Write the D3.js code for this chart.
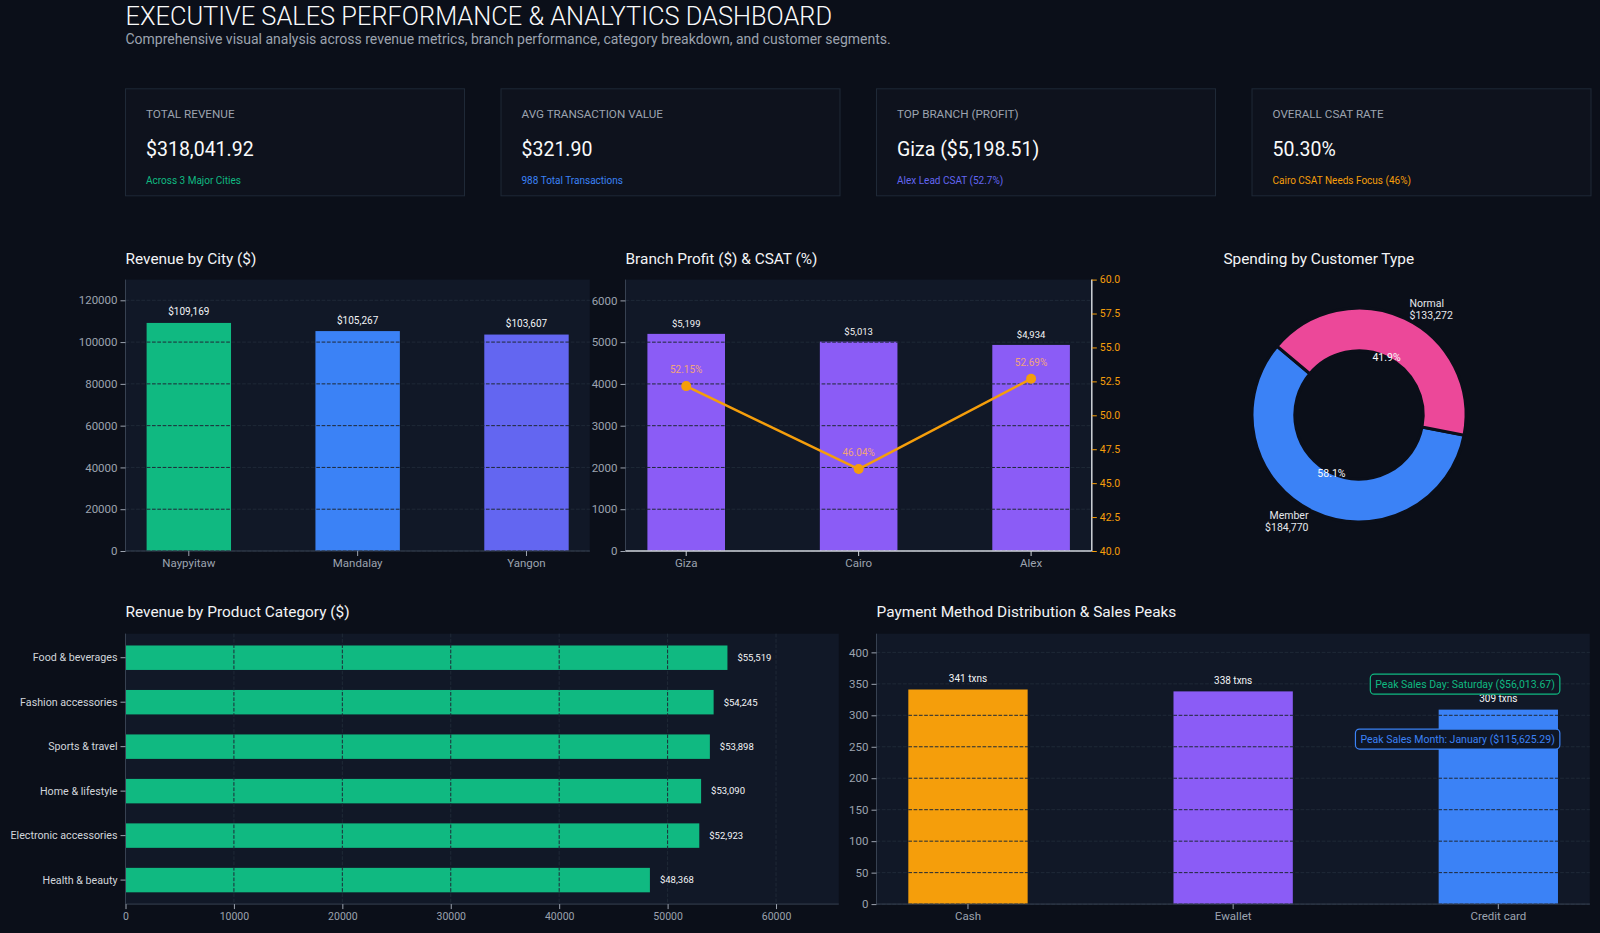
<!DOCTYPE html>
<html>
<head>
<meta charset="utf-8">
<script src="https://cdn.jsdelivr.net/npm/d3@7"></script>
<style>
  html, body { margin: 0; padding: 0; background: #0b0f19; }
  svg { display: block; }
</style>
</head>
<body>
<svg id="dash" width="1600" height="933"></svg>
<script>
// ---- data ----
const titleText = "EXECUTIVE SALES PERFORMANCE & ANALYTICS DASHBOARD";
const subtitleText = "Comprehensive visual analysis across revenue metrics, branch performance, category breakdown, and customer segments.";

const kpiLabels = ["TOTAL REVENUE", "AVG TRANSACTION VALUE", "TOP BRANCH (PROFIT)", "OVERALL CSAT RATE"];
const kpiValues = ["$318,041.92", "$321.90", "Giza ($5,198.51)", "50.30%"];
const kpiNotes = ["Across 3 Major Cities", "988 Total Transactions", "Alex Lead CSAT (52.7%)", "Cairo CSAT Needs Focus (46%)"];

const cities = ["Naypyitaw", "Mandalay", "Yangon"];
const cityRevenue = [109169, 105267, 103607];
const cityTicks = [0, 20000, 40000, 60000, 80000, 100000, 120000];

const branches = ["Giza", "Cairo", "Alex"];
const branchProfit = [5198.51, 5013, 4934];
const branchCsat = [52.15, 46.04, 52.69];
const profitTicks = [0, 1000, 2000, 3000, 4000, 5000, 6000];
const csatTicks = [40, 42.5, 45, 47.5, 50, 52.5, 55, 57.5, 60];

const customerTypes = ["Member", "Normal"];
const customerSpend = [184770, 133272];

const categories = ["Food & beverages", "Fashion accessories", "Sports & travel", "Home & lifestyle", "Electronic accessories", "Health & beauty"];
const categoryRevenue = [55519, 54245, 53898, 53090, 52923, 48368];
const categoryTicks = [0, 10000, 20000, 30000, 40000, 50000, 60000];

const payments = ["Cash", "Ewallet", "Credit card"];
const paymentTxns = [341, 338, 309];
const paymentTicks = [0, 50, 100, 150, 200, 250, 300, 350, 400];

const peakNotes = ["Peak Sales Day: Saturday ($56,013.67)", "Peak Sales Month: January ($115,625.29)"];

// ---- look ----
const FONT = "Roboto, 'Open Sans', sans-serif";
const BG = "#0b0f19", PANEL = "#111827", GRID = "#1f2937", SPINE = "#374151", MUTED = "#9ca3af", WHITE = "#f3f4f6";
const kpiColors = ["#10b981", "#3b82f6", "#6366f1", "#f59e0b"];
const cityColors = ["#10b981", "#3b82f6", "#6366f1"];
const payColors = ["#f59e0b", "#8b5cf6", "#3b82f6"];
const noteColors = ["#10b981", "#3b82f6"];
const TITLE_SIZE = 15.4;

const svg = d3.select("#dash").attr("font-family", FONT);
svg.append("rect").attr("width", 1600).attr("height", 933).attr("fill", BG);

// header
svg.append("text").attr("x", 125.5).attr("y", 25)
  .attr("font-size", 25.4).attr("font-weight", 300).attr("fill", "#f9fafb").text(titleText);
svg.append("text").attr("x", 125.5).attr("y", 43.5)
  .attr("font-size", 14).attr("fill", MUTED).text(subtitleText);

// KPI cards
kpiLabels.forEach((lab, i) => {
  const card = svg.append("g").attr("transform", `translate(${125.5 + i * 375.5}, 88.8)`);
  card.append("rect").attr("width", 339).attr("height", 107)
    .attr("fill", "#0e121d").attr("stroke", GRID).attr("stroke-width", 1);
  card.append("text").attr("x", 20.5).attr("y", 29.6).attr("font-size", 11.7).attr("fill", MUTED).text(lab);
  card.append("text").attr("x", 20.5).attr("y", 67).attr("font-size", 19.5).attr("fill", "#f9fafb").text(kpiValues[i]);
  card.append("text").attr("x", 20.5).attr("y", 95).attr("font-size", 10).attr("fill", kpiColors[i]).text(kpiNotes[i]);
});

function chartTitle(x, y, t) {
  svg.append("text").attr("x", x).attr("y", y).attr("font-size", TITLE_SIZE).attr("fill", WHITE).text(t);
}

function styleAxis(g, tickColor, textColor) {
  g.attr("font-family", FONT).attr("font-size", 11.5);
  g.select(".domain").remove();
  g.selectAll(".tick line").attr("stroke", tickColor);
  g.selectAll(".tick text").attr("fill", textColor);
}

// dashed grid, drawn on top of the bars like the reference
function hGrid(ticks, y, x0, x1) {
  svg.append("g").selectAll("line").data(ticks).join("line")
    .attr("x1", x0).attr("x2", x1)
    .attr("y1", d => y(d)).attr("y2", d => y(d))
    .attr("stroke", GRID).attr("stroke-width", 1).attr("stroke-dasharray", "3.7,1.6");
}

// ---- Revenue by City ----
const r1 = { top: 279.6, bottom: 551 };
chartTitle(125.5, 264, "Revenue by City ($)");
{
  const x0 = 125.5, x1 = 589.8;
  svg.append("rect").attr("x", x0).attr("y", r1.top).attr("width", x1 - x0).attr("height", r1.bottom - r1.top).attr("fill", PANEL);
  const x = d3.scaleBand().domain(cities).range([x0, x1]).paddingInner(0.5).paddingOuter(0.125);
  const y = d3.scaleLinear().domain([0, d3.max(cityRevenue) * 1.19]).range([r1.bottom, r1.top]);

  svg.append("g").selectAll("rect").data(cities).join("rect")
    .attr("x", d => x(d)).attr("width", x.bandwidth())
    .attr("y", (d, i) => y(cityRevenue[i])).attr("height", (d, i) => r1.bottom - y(cityRevenue[i]))
    .attr("fill", (d, i) => cityColors[i]);
  hGrid(cityTicks, y, x0, x1);

  svg.append("line").attr("x1", x0).attr("x2", x1).attr("y1", r1.bottom).attr("y2", r1.bottom).attr("stroke", SPINE);
  svg.append("line").attr("x1", x0).attr("x2", x0).attr("y1", r1.top).attr("y2", r1.bottom).attr("stroke", SPINE);

  svg.append("g").attr("transform", `translate(${x0},0)`)
    .call(d3.axisLeft(y).tickValues(cityTicks).tickSize(5).tickPadding(3).tickFormat(d3.format("d")))
    .call(g => styleAxis(g, MUTED, MUTED));
  svg.append("g").attr("transform", `translate(0,${r1.bottom})`)
    .call(d3.axisBottom(x).tickSize(5).tickPadding(3))
    .call(g => styleAxis(g, MUTED, MUTED));

  svg.append("g").selectAll("text").data(cities).join("text")
    .attr("x", d => x(d) + x.bandwidth() / 2)
    .attr("y", (d, i) => y(cityRevenue[i]) - 7.5)
    .attr("text-anchor", "middle").attr("font-size", 10).attr("fill", WHITE)
    .text((d, i) => "$" + d3.format(",")(cityRevenue[i]));
}

// ---- Branch Profit & CSAT ----
chartTitle(625.5, 264, "Branch Profit ($) & CSAT (%)");
{
  const x0 = 625.5, x1 = 1091.8;
  svg.append("rect").attr("x", x0).attr("y", r1.top).attr("width", x1 - x0).attr("height", r1.bottom - r1.top).attr("fill", PANEL);
  const x = d3.scaleBand().domain(branches).range([x0, x1]).paddingInner(0.55).paddingOuter(0.127);
  const y = d3.scaleLinear().domain([0, d3.max(branchProfit) * 1.25]).range([r1.bottom, r1.top]);
  const y2 = d3.scaleLinear().domain([40, 60]).range([r1.bottom, r1.top]);

  svg.append("g").selectAll("rect").data(branches).join("rect")
    .attr("x", d => x(d)).attr("width", x.bandwidth())
    .attr("y", (d, i) => y(branchProfit[i])).attr("height", (d, i) => r1.bottom - y(branchProfit[i]))
    .attr("fill", "#8b5cf6");
  hGrid(profitTicks, y, x0, x1);

  svg.append("line").attr("x1", x0).attr("x2", x0).attr("y1", r1.top).attr("y2", r1.bottom).attr("stroke", SPINE);
  svg.append("line").attr("x1", x0).attr("x2", x1).attr("y1", r1.bottom).attr("y2", r1.bottom).attr("stroke", "#d1d5db").attr("stroke-width", 1.5);
  svg.append("line").attr("x1", x1).attr("x2", x1).attr("y1", r1.top).attr("y2", r1.bottom).attr("stroke", "#d1d5db").attr("stroke-width", 1.5);

  svg.append("g").attr("transform", `translate(${x0},0)`)
    .call(d3.axisLeft(y).tickValues(profitTicks).tickSize(5).tickPadding(3).tickFormat(d3.format("d")))
    .call(g => styleAxis(g, MUTED, MUTED));
  svg.append("g").attr("transform", `translate(${x1},0)`)
    .call(d3.axisRight(y2).tickValues(csatTicks).tickSize(5).tickPadding(3).tickFormat(d3.format(".1f")))
    .call(g => styleAxis(g, "#f59e0b", "#f59e0b"))
    .call(g => g.attr("font-size", 10.5));
  svg.append("g").attr("transform", `translate(0,${r1.bottom})`)
    .call(d3.axisBottom(x).tickSize(5).tickPadding(3))
    .call(g => styleAxis(g, "#d1d5db", MUTED));

  svg.append("g").selectAll("text").data(branches).join("text")
    .attr("x", d => x(d) + x.bandwidth() / 2)
    .attr("y", (d, i) => y(branchProfit[i]) - 7)
    .attr("text-anchor", "middle").attr("font-size", 9.5).attr("fill", WHITE)
    .text((d, i) => "$" + d3.format(",.0f")(branchProfit[i]));

  const cx = d => x(d) + x.bandwidth() / 2;
  const line = d3.line().x(d => cx(d)).y((d, i) => y2(branchCsat[i]));
  svg.append("path").datum(branches).attr("d", line)
    .attr("fill", "none").attr("stroke", "#f59e0b").attr("stroke-width", 2.5);
  svg.append("g").selectAll("circle").data(branches).join("circle")
    .attr("cx", cx).attr("cy", (d, i) => y2(branchCsat[i])).attr("r", 5).attr("fill", "#f59e0b");
  svg.append("g").selectAll("text").data(branches).join("text")
    .attr("x", cx).attr("y", (d, i) => y2(branchCsat[i]) - 13)
    .attr("text-anchor", "middle").attr("font-size", 10).attr("fill", "#f0a47c")
    .text((d, i) => branchCsat[i].toFixed(2) + "%");
}

// ---- Spending by Customer Type ----
chartTitle(1223.4, 264, "Spending by Customer Type");
{
  const cx = 1359, cy = 415, R = 107;
  const total = d3.sum(customerSpend);
  const pie = d3.pie().sort(null).value(d => d)
    .startAngle(-50 * Math.PI / 180).endAngle(-410 * Math.PI / 180);
  const arcs = pie(customerSpend);
  const arc = d3.arc().innerRadius(R * 0.6).outerRadius(R);
  const g = svg.append("g").attr("transform", `translate(${cx},${cy})`);
  g.selectAll("path").data(arcs).join("path")
    .attr("d", arc)
    .attr("fill", (d, i) => ["#3b82f6", "#ec4899"][i])
    .attr("stroke", BG).attr("stroke-width", 3);

  arcs.forEach((a, i) => {
    const mid = (a.startAngle + a.endAngle) / 2;
    const lx = Math.sin(mid) * R * 1.1, ly = -Math.cos(mid) * R * 1.1;
    const t = g.append("text").attr("x", lx).attr("y", ly)
      .attr("text-anchor", lx > 0 ? "start" : "end").attr("font-size", 10.5).attr("fill", "#e5e7eb");
    t.append("tspan").attr("x", lx).attr("dy", "-0.2em").text(customerTypes[i]);
    t.append("tspan").attr("x", lx).attr("dy", "1.15em").text("$" + d3.format(",")(customerSpend[i]));

    const px = Math.sin(mid) * R * 0.6, py = -Math.cos(mid) * R * 0.6;
    g.append("text").attr("x", px).attr("y", py).attr("dy", "0.35em")
      .attr("text-anchor", "middle").attr("font-size", 10.5).attr("fill", "#f9fafb")
      .text((customerSpend[i] / total * 100).toFixed(1) + "%");
  });
}

// ---- Revenue by Product Category ----
const r2 = { top: 633.7, bottom: 904.1 };
chartTitle(125.5, 617.3, "Revenue by Product Category ($)");
{
  const x0 = 125.5, x1 = 838.8;
  svg.append("rect").attr("x", x0).attr("y", r2.top).attr("width", x1 - x0).attr("height", r2.bottom - r2.top).attr("fill", PANEL);
  const y = d3.scaleBand().domain(categories).range([r2.top, r2.bottom]).paddingInner(0.45).paddingOuter(0.265);
  const x = d3.scaleLinear().domain([0, d3.max(categoryRevenue) * 1.185]).range([x0, x1]);

  svg.append("g").selectAll("rect").data(categories).join("rect")
    .attr("y", d => y(d)).attr("height", y.bandwidth())
    .attr("x", x0).attr("width", (d, i) => x(categoryRevenue[i]) - x0)
    .attr("fill", "#10b981");

  svg.append("g").selectAll("line").data(categoryTicks).join("line")
    .attr("x1", d => x(d)).attr("x2", d => x(d)).attr("y1", r2.top).attr("y2", r2.bottom)
    .attr("stroke", GRID).attr("stroke-width", 1).attr("stroke-dasharray", "3.7,1.6");

  svg.append("line").attr("x1", x0).attr("x2", x1).attr("y1", r2.bottom).attr("y2", r2.bottom).attr("stroke", SPINE);
  svg.append("line").attr("x1", x0).attr("x2", x0).attr("y1", r2.top).attr("y2", r2.bottom).attr("stroke", SPINE);

  svg.append("g").attr("transform", `translate(${x0},0)`)
    .call(d3.axisLeft(y).tickSize(5).tickPadding(3))
    .call(g => styleAxis(g, MUTED, "#d1d5db"))
    .call(g => g.attr("font-size", 10.7));
  svg.append("g").attr("transform", `translate(0,${r2.bottom})`)
    .call(d3.axisBottom(x).tickValues(categoryTicks).tickSize(5).tickPadding(3).tickFormat(d3.format("d")))
    .call(g => styleAxis(g, MUTED, MUTED))
    .call(g => g.attr("font-size", 10.5));

  svg.append("g").selectAll("text").data(categories).join("text")
    .attr("x", (d, i) => x(categoryRevenue[i]) + 10)
    .attr("y", d => y(d) + y.bandwidth() / 2).attr("dy", "0.35em")
    .attr("font-size", 9.5).attr("fill", WHITE)
    .text((d, i) => "$" + d3.format(",")(categoryRevenue[i]));
}

// ---- Payment Method Distribution & Sales Peaks ----
chartTitle(876.5, 617.3, "Payment Method Distribution & Sales Peaks");
{
  const x0 = 876.5, x1 = 1589.8;
  svg.append("rect").attr("x", x0).attr("y", r2.top).attr("width", x1 - x0).attr("height", r2.bottom - r2.top).attr("fill", PANEL);
  const x = d3.scaleBand().domain(payments).range([x0, x1]).paddingInner(0.55).paddingOuter(0.12);
  const y = d3.scaleLinear().domain([0, d3.max(paymentTxns) * 1.26]).range([r2.bottom, r2.top]);

  svg.append("g").selectAll("rect").data(payments).join("rect")
    .attr("x", d => x(d)).attr("width", x.bandwidth())
    .attr("y", (d, i) => y(paymentTxns[i])).attr("height", (d, i) => r2.bottom - y(paymentTxns[i]))
    .attr("fill", (d, i) => payColors[i]);
  hGrid(paymentTicks, y, x0, x1);

  svg.append("line").attr("x1", x0).attr("x2", x1).attr("y1", r2.bottom).attr("y2", r2.bottom).attr("stroke", SPINE);
  svg.append("line").attr("x1", x0).attr("x2", x0).attr("y1", r2.top).attr("y2", r2.bottom).attr("stroke", SPINE);

  svg.append("g").attr("transform", `translate(${x0},0)`)
    .call(d3.axisLeft(y).tickValues(paymentTicks).tickSize(5).tickPadding(3))
    .call(g => styleAxis(g, MUTED, MUTED));
  svg.append("g").attr("transform", `translate(0,${r2.bottom})`)
    .call(d3.axisBottom(x).tickSize(5).tickPadding(3))
    .call(g => styleAxis(g, MUTED, MUTED));

  svg.append("g").selectAll("text").data(payments).join("text")
    .attr("x", d => x(d) + x.bandwidth() / 2)
    .attr("y", (d, i) => y(paymentTxns[i]) - 7.5)
    .attr("text-anchor", "middle").attr("font-size", 10).attr("fill", WHITE)
    .text((d, i) => paymentTxns[i] + " txns");

  // peak callouts, right aligned inside the plot
  const h = r2.bottom - r2.top;
  [0.186, 0.389].forEach((fy, i) => {
    const g = svg.append("g");
    const t = g.append("text").attr("x", x0 + (x1 - x0) * 0.951).attr("y", r2.top + h * fy).attr("dy", "0.35em")
      .attr("text-anchor", "end").attr("font-size", 10.5).attr("fill", noteColors[i]).text(peakNotes[i]);
    const b = t.node().getBBox();
    g.insert("rect", "text")
      .attr("x", b.x - 5).attr("y", b.y - 3.5).attr("width", b.width + 10).attr("height", b.height + 7)
      .attr("rx", 4).attr("fill", "#0f1624").attr("stroke", noteColors[i]).attr("stroke-width", 1.2);
  });
}
</script>
</body>
</html>
